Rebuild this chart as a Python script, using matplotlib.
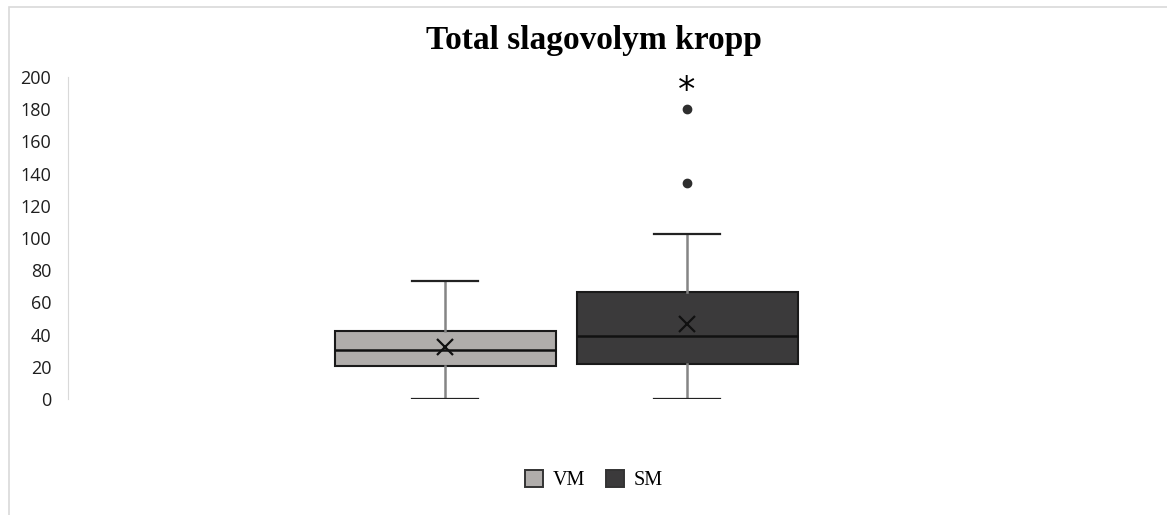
import matplotlib
matplotlib.use("Agg")
import matplotlib.pyplot as plt
from matplotlib.patches import Rectangle, Patch

groups = ["VM", "SM"]
q1 = [20.5, 21.5]
median = [30.5, 39.0]
q3 = [42.5, 66.5]
whislo = [0, 0]
whishi = [73, 102.5]
mean = [32.5, 46.5]
fliers = [[], [134, 180]]
colors = ["#b0adab", "#3b3a3b"]
yticks = [0, 20, 40, 60, 80, 100, 120, 140, 160, 180, 200]

fig = plt.figure(figsize=(11.67, 5.15), dpi=100)
ax = fig.add_axes([68 / 1167, 1 - 399 / 515, (1150 - 68) / 1167, (399 - 77) / 515])

stats = [dict(label=g, q1=a, med=m, q3=b, whislo=lo, whishi=hi, mean=mu, fliers=f)
         for g, a, m, b, lo, hi, mu, f in zip(groups, q1, median, q3, whislo, whishi, mean, fliers)]
bp = ax.bxp(stats, positions=[1, 2], widths=0.913, capwidths=0.273, showmeans=True,
            patch_artist=True,
            boxprops=dict(edgecolor="#1a1a1a", linewidth=1.5),
            medianprops=dict(color="#111111", linewidth=1.8),
            whiskerprops=dict(color="#858585", linewidth=1.8),
            capprops=dict(color="#222222", linewidth=1.6),
            meanprops=dict(marker="x", markeredgecolor="#111111", markersize=11, markeredgewidth=1.6),
            flierprops=dict(marker="o", markerfacecolor="#2e2e2e", markeredgecolor="#2e2e2e",
                            markersize=6))
for patch, c in zip(bp["boxes"], colors):
    patch.set_facecolor(c)

ax.text(2, 191, "*", ha="center", va="center", fontsize=25, family="DejaVu Sans")

ax.set_xlim(-0.558, 3.913)
ax.set_ylim(0, 200)
ax.set_yticks(yticks)
ax.tick_params(axis="y", length=0, labelsize=13, pad=12, labelcolor="#1e1e1e")
ax.set_xticks([])
for s in ["top", "right", "bottom"]:
    ax.spines[s].set_visible(False)
ax.spines["left"].set_color("#d9d9d9")
for lab in ax.get_yticklabels():
    lab.set_family("Open Sans")

fig.text(594 / 1167, 1 - 40 / 515, "Total slagovolym kropp", ha="center", va="center",
         fontsize=24, fontweight="bold", family="Liberation Serif")

handles = [Patch(facecolor=c, edgecolor="#333333", linewidth=1.4) for c in colors]
fig.legend(handles, groups, loc="center", bbox_to_anchor=(594 / 1167, 1 - 480 / 515),
           ncol=2, frameon=False, prop=dict(family="Liberation Serif", size=14.5),
           handlelength=0.9, handleheight=0.9, handletextpad=0.5, columnspacing=1.0)

fig.add_artist(Rectangle((9 / 1167, -0.1), 1.1, 1 - 7 / 515 + 0.1, transform=fig.transFigure,
                         fill=False, edgecolor="#d9d9d9", linewidth=1.2))

fig.savefig("out.png", dpi=100)
